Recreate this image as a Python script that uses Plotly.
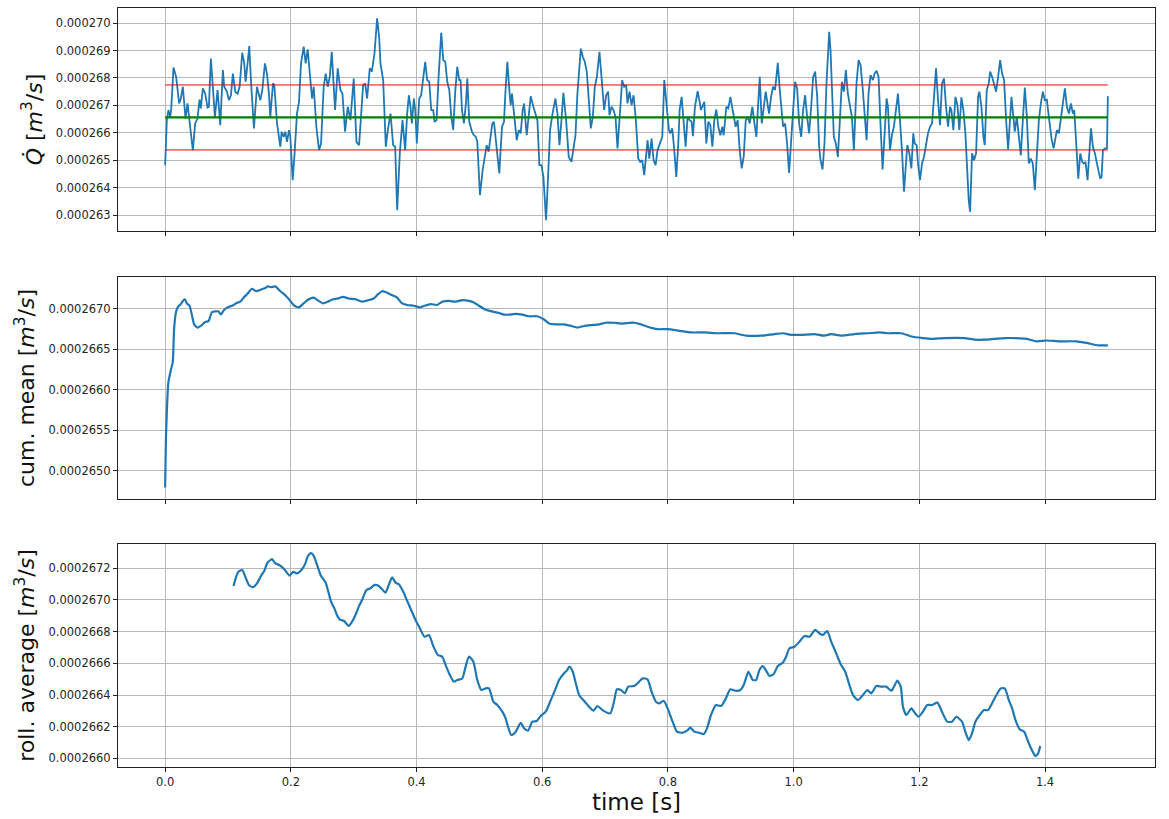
import numpy as np
import plotly.graph_objects as go
from plotly.subplots import make_subplots

# ---------------- data (flow rates in 1e-6 m^3/s, time in s) ----------------
flow_t_a = [0.0000, 0.0027, 0.0053, 0.0080, 0.0096, 0.0133, 0.0175, 0.0197, 0.0223, 0.0250,
            0.0282, 0.0324, 0.0356, 0.0398, 0.0441, 0.0478, 0.0515, 0.0547, 0.0568, 0.0600,
            0.0637, 0.0675, 0.0696, 0.0728, 0.0760, 0.0792, 0.0834, 0.0877, 0.0919, 0.0940,
            0.0983, 0.1015, 0.1047, 0.1078, 0.1116, 0.1153, 0.1185, 0.1227, 0.1259, 0.1280,
            0.1312, 0.1339, 0.1365, 0.1413, 0.1461, 0.1514, 0.1546, 0.1588, 0.1620, 0.1652,
            0.1673, 0.1716, 0.1737, 0.1780, 0.1833, 0.1854, 0.1886, 0.1912, 0.1939, 0.1971,
            0.1992, 0.2029, 0.2056, 0.2098, 0.2130, 0.2162, 0.2205, 0.2236, 0.2268, 0.2300,
            0.2337, 0.2364, 0.2406, 0.2449, 0.2481, 0.2523, 0.2555, 0.2587, 0.2619, 0.2651,
            0.2672, 0.2704, 0.2746, 0.2789, 0.2821, 0.2863, 0.2906, 0.2948, 0.3001, 0.3044,
            0.3086, 0.3118, 0.3150, 0.3182, 0.3214, 0.3256, 0.3288, 0.3331, 0.3373, 0.3405,
            0.3426, 0.3469, 0.3511, 0.3543, 0.3586, 0.3628, 0.3660, 0.3692]
flow_q_a = [264.82, 266.46, 266.83, 266.58, 266.83, 268.38, 268.04, 267.68, 267.07, 267.25,
            267.68, 266.52, 267.07, 266.22, 265.37, 266.34, 266.52, 267.21, 266.89, 267.62,
            267.43, 266.92, 266.95, 268.71, 267.56, 266.58, 267.56, 266.28, 268.29, 267.68,
            267.50, 267.19, 267.37, 268.16, 267.50, 267.43, 267.68, 268.92, 268.53, 267.86,
            268.53, 269.16, 267.92, 266.16, 267.68, 267.19, 267.56, 268.53, 268.16, 267.43,
            266.58, 267.80, 267.74, 266.34, 265.49, 266.04, 265.85, 266.04, 265.67, 266.10,
            265.85, 264.27, 265.12, 266.70, 267.13, 268.53, 269.14, 268.53, 269.04, 268.04,
            267.25, 267.68, 266.22, 265.37, 265.61, 267.68, 268.16, 267.68, 268.04, 268.95,
            268.04, 266.83, 268.35, 267.56, 267.43, 266.04, 266.95, 266.46, 267.98, 265.67,
            265.55, 266.83, 267.74, 267.80, 267.25, 268.35, 268.23, 268.89, 270.17, 269.50,
            268.53, 267.92, 265.49, 266.10, 266.70, 265.55, 265.49, 263.18]

flow_t_b = [0.3734, 0.3777, 0.3819, 0.3851, 0.3878, 0.3904, 0.3926, 0.3958, 0.3979, 0.4005,
            0.4043, 0.4074, 0.4106, 0.4138, 0.4170, 0.4202, 0.4234, 0.4266, 0.4287, 0.4319,
            0.4351, 0.4393, 0.4425, 0.4457, 0.4489, 0.4521, 0.4553, 0.4584, 0.4616, 0.4648,
            0.4680, 0.4701, 0.4723, 0.4754, 0.4786, 0.4808, 0.4839, 0.4882, 0.4914, 0.4946,
            0.4967, 0.5009, 0.5052, 0.5084, 0.5116, 0.5147, 0.5179, 0.5206, 0.5232, 0.5275,
            0.5317, 0.5360, 0.5392, 0.5413, 0.5445, 0.5477, 0.5498, 0.5519, 0.5551, 0.5594,
            0.5626, 0.5657, 0.5689, 0.5711, 0.5753, 0.5785, 0.5817, 0.5859, 0.5891, 0.5923,
            0.5955, 0.5987, 0.6019, 0.6061, 0.6093, 0.6125, 0.6157, 0.6178, 0.6210, 0.6242,
            0.6274, 0.6306, 0.6337, 0.6380, 0.6422, 0.6465, 0.6497, 0.6529, 0.6560, 0.6592,
            0.6614, 0.6645, 0.6677, 0.6709, 0.6741, 0.6773, 0.6805, 0.6837, 0.6869, 0.6911,
            0.6943, 0.6964, 0.6985, 0.7017, 0.7049, 0.7070, 0.7102, 0.7134, 0.7166, 0.7198,
            0.7240, 0.7272, 0.7304, 0.7336, 0.7357, 0.7389, 0.7421]
flow_q_b = [265.25, 266.46, 265.37, 266.70, 267.37, 266.95, 266.34, 267.25, 266.83, 265.61,
            267.25, 267.37, 267.92, 268.59, 267.92, 267.86, 266.83, 266.83, 266.40, 266.46,
            268.04, 269.65, 268.65, 268.59, 267.86, 267.56, 266.58, 266.10, 267.50, 268.41,
            267.92, 267.92, 266.83, 266.34, 267.07, 267.98, 266.40, 266.04, 265.91, 265.85,
            265.67, 263.73, 264.64, 265.12, 265.55, 265.31, 265.98, 266.34, 266.40, 265.49,
            264.52, 266.22, 266.40, 267.43, 268.59, 267.56, 267.01, 267.43, 266.70, 265.73,
            266.10, 265.98, 266.83, 267.07, 265.91, 266.70, 267.33, 266.95, 266.70, 266.46,
            264.82, 264.82, 264.39, 262.81, 264.39, 266.10, 266.61, 266.83, 267.25, 266.70,
            265.55, 266.46, 267.46, 266.46, 265.12, 264.94, 265.43, 265.91, 267.43, 268.65,
            269.07, 268.77, 268.59, 268.23, 267.07, 266.16, 266.58, 267.68, 268.04, 268.95,
            268.04, 267.37, 266.83, 267.37, 267.50, 266.64, 266.95, 266.83, 266.58, 265.43,
            267.01, 267.92, 267.68, 267.74, 267.07, 267.50, 267.01]

flow_t_c = [0.7453, 0.7490, 0.7527, 0.7559, 0.7591, 0.7623, 0.7655, 0.7676, 0.7703, 0.7740,
            0.7772, 0.7804, 0.7835, 0.7878, 0.7910, 0.7942, 0.7984, 0.8016, 0.8037, 0.8069,
            0.8101, 0.8133, 0.8165, 0.8186, 0.8218, 0.8250, 0.8282, 0.8313, 0.8345, 0.8377,
            0.8398, 0.8430, 0.8473, 0.8505, 0.8526, 0.8547, 0.8579, 0.8611, 0.8643, 0.8675,
            0.8707, 0.8738, 0.8770, 0.8802, 0.8834, 0.8866, 0.8887, 0.8930, 0.8962, 0.8993,
            0.9025, 0.9047, 0.9078, 0.9110, 0.9142, 0.9174, 0.9206, 0.9238, 0.9270, 0.9302,
            0.9344, 0.9376, 0.9408, 0.9429, 0.9461, 0.9493, 0.9525, 0.9556, 0.9588, 0.9610,
            0.9641, 0.9673, 0.9705, 0.9748, 0.9780, 0.9811, 0.9833, 0.9865, 0.9896, 0.9928,
            0.9960, 0.9992, 1.0024, 1.0056, 1.0088, 1.0120, 1.0151, 1.0183, 1.0215, 1.0247,
            1.0279, 1.0311, 1.0343, 1.0375, 1.0406, 1.0428, 1.0460, 1.0491, 1.0523, 1.0545,
            1.0566, 1.0587, 1.0619, 1.0640, 1.0672, 1.0704, 1.0736, 1.0768, 1.0800, 1.0831,
            1.0863, 1.0895, 1.0927, 1.0959, 1.1001, 1.1033, 1.1065, 1.1097, 1.1129, 1.1161,
            1.1192, 1.1224]
flow_q_c = [267.37, 266.46, 265.06, 264.94, 265.00, 264.46, 265.37, 265.73, 265.06, 265.79,
            265.00, 264.82, 265.37, 265.61, 265.85, 267.92, 266.95, 266.10, 265.98, 266.16,
            265.37, 264.39, 265.61, 266.83, 267.31, 266.46, 265.49, 266.58, 266.46, 266.40,
            265.88, 266.95, 267.52, 267.13, 266.83, 266.95, 267.13, 265.61, 266.40, 266.28,
            265.49, 266.46, 266.85, 266.22, 265.91, 266.22, 265.91, 266.95, 266.89, 267.31,
            266.89, 266.58, 266.22, 266.46, 265.37, 264.70, 265.12, 266.46, 266.58, 266.34,
            266.95, 266.34, 265.85, 266.77, 268.04, 266.34, 266.95, 267.50, 267.01, 266.70,
            267.31, 267.68, 267.56, 268.55, 267.56, 266.58, 266.22, 266.34, 265.61, 264.54,
            265.85, 266.83, 267.86, 267.62, 266.34, 265.85, 266.83, 267.37, 266.58, 265.98,
            266.95, 268.04, 268.23, 267.31, 265.49, 265.00, 264.66, 265.61, 267.80, 269.01,
            269.68, 269.01, 266.95, 265.85, 265.61, 265.12, 266.46, 267.86, 267.50, 268.29,
            267.43, 266.95, 266.58, 265.37, 267.80, 268.65, 268.47, 267.68, 266.58, 265.73,
            267.43, 268.10]

flow_t_d = [1.1262, 1.1288, 1.1320, 1.1352, 1.1384, 1.1416, 1.1448, 1.1480, 1.1501, 1.1533,
            1.1564, 1.1596, 1.1628, 1.1660, 1.1692, 1.1724, 1.1756, 1.1788, 1.1809, 1.1841,
            1.1873, 1.1904, 1.1926, 1.1958, 1.1979, 1.2011, 1.2043, 1.2074, 1.2106, 1.2138,
            1.2170, 1.2202, 1.2234, 1.2266, 1.2298, 1.2329, 1.2361, 1.2393, 1.2425, 1.2457,
            1.2489, 1.2510, 1.2542, 1.2574, 1.2606, 1.2637, 1.2669, 1.2701, 1.2733, 1.2765,
            1.2786, 1.2808, 1.2839, 1.2871, 1.2903, 1.2935, 1.2956, 1.2988, 1.3020, 1.3041,
            1.3073, 1.3105, 1.3126, 1.3158, 1.3190, 1.3222, 1.3254, 1.3286, 1.3317, 1.3349,
            1.3381, 1.3413, 1.3466, 1.3487, 1.3519, 1.3551, 1.3583, 1.3615, 1.3647, 1.3679,
            1.3711, 1.3742, 1.3774, 1.3806, 1.3838, 1.3870, 1.3902, 1.3934, 1.3966, 1.3997,
            1.4029, 1.4061, 1.4104, 1.4136, 1.4157, 1.4189, 1.4221, 1.4252, 1.4284, 1.4316,
            1.4348, 1.4380, 1.4412, 1.4444, 1.4465, 1.4497, 1.4529, 1.4561, 1.4592, 1.4614,
            1.4645, 1.4677, 1.4709, 1.4731, 1.4762, 1.4794, 1.4837, 1.4879, 1.4900, 1.4922,
            1.4954, 1.4986, 1.5000]
flow_q_d = [267.92, 268.16, 268.26, 268.04, 266.22, 264.66, 265.98, 267.25, 266.95, 265.37,
            265.91, 266.22, 266.83, 267.43, 266.46, 265.37, 263.85, 264.88, 265.55, 265.25,
            264.70, 265.98, 265.61, 265.55, 264.88, 264.27, 264.88, 265.12, 265.61, 265.98,
            266.22, 266.34, 267.31, 268.35, 267.19, 266.28, 267.80, 267.98, 266.95, 266.22,
            266.95, 266.83, 266.10, 267.31, 267.01, 266.10, 267.29, 266.83, 265.98, 264.58,
            263.54, 263.12, 265.25, 265.00, 265.25, 267.31, 267.50, 266.95, 265.85, 265.55,
            267.56, 267.80, 268.23, 268.04, 267.74, 267.50, 268.04, 268.65, 268.16, 267.92,
            266.46, 265.39, 267.31, 266.89, 266.04, 266.58, 265.73, 265.18, 266.46, 267.65,
            266.58, 264.88, 265.06, 264.88, 263.91, 265.25, 266.46, 267.07, 267.50, 267.19,
            267.21, 266.58, 265.79, 265.43, 265.67, 266.10, 265.98, 266.58, 267.07, 267.62,
            266.95, 266.70, 267.07, 266.70, 266.83, 265.73, 264.33, 265.25, 264.94, 264.88,
            264.94, 264.27, 265.61, 266.16, 265.49, 265.25, 264.76, 264.33, 264.39, 265.37,
            265.43, 265.43, 267.33]

flow_mean = 266.56
flow_std = 1.185
t_start, t_end = 0.0, 1.5

cum_t_a = [0.0000, 0.0016, 0.0053, 0.0090, 0.0122, 0.0143, 0.0175, 0.0207, 0.0250, 0.0282,
           0.0313, 0.0345, 0.0388, 0.0425, 0.0462, 0.0515, 0.0568, 0.0637, 0.0691, 0.0744,
           0.0797, 0.0850, 0.0887, 0.0930, 0.0993, 0.1062, 0.1132, 0.1195, 0.1248, 0.1312,
           0.1381, 0.1450, 0.1525, 0.1594, 0.1631, 0.1684, 0.1753, 0.1833, 0.1912, 0.1992,
           0.2056, 0.2125, 0.2204, 0.2284, 0.2364, 0.2444, 0.2513, 0.2587, 0.2672, 0.2746,
           0.2831, 0.2922, 0.3028, 0.3134, 0.3240, 0.3320, 0.3384, 0.3453, 0.3506, 0.3586,
           0.3692, 0.3756, 0.3851, 0.3957, 0.4053, 0.4127, 0.4223, 0.4329, 0.4409, 0.4515,
           0.4621, 0.4728, 0.4834, 0.4914, 0.4993, 0.5100, 0.5206, 0.5312, 0.5392, 0.5472,
           0.5578, 0.5684, 0.5790, 0.5923, 0.6029, 0.6109, 0.6215, 0.6348, 0.6465, 0.6560,
           0.6667, 0.6773, 0.6906, 0.7012, 0.7145, 0.7251]
cum_q_a = [264.79, 265.48, 266.10, 266.24, 266.35, 266.76, 266.97, 267.03, 267.06, 267.10,
           267.12, 267.07, 267.04, 266.93, 266.81, 266.77, 266.79, 266.84, 266.85, 266.96,
           266.97, 266.97, 266.93, 266.98, 267.02, 267.04, 267.07, 267.09, 267.14, 267.19,
           267.25, 267.22, 267.24, 267.26, 267.28, 267.27, 267.28, 267.22, 267.17, 267.10,
           267.04, 267.02, 267.07, 267.12, 267.14, 267.10, 267.07, 267.09, 267.12, 267.13,
           267.15, 267.13, 267.12, 267.09, 267.11, 267.13, 267.18, 267.22, 267.21, 267.18,
           267.14, 267.08, 267.05, 267.04, 267.02, 267.04, 267.06, 267.05, 267.09, 267.10,
           267.09, 267.11, 267.10, 267.08, 267.04, 266.99, 266.97, 266.95, 266.93, 266.93,
           266.94, 266.93, 266.91, 266.91, 266.87, 266.82, 266.81, 266.81, 266.79, 266.77,
           266.79, 266.80, 266.81, 266.83, 266.83, 266.82]
cum_t_b = [0.7463, 0.7570, 0.7676, 0.7835, 0.7995, 0.8181, 0.8367, 0.8579, 0.8792, 0.9057,
           0.9243, 0.9482, 0.9697, 0.9829, 0.9962, 1.0120, 1.0332, 1.0491, 1.0598, 1.0757,
           1.0970, 1.1182, 1.1368, 1.1501, 1.1716, 1.1873, 1.2059, 1.2191, 1.2403, 1.2722,
           1.2882, 1.3041, 1.3200, 1.3360, 1.3519, 1.3705, 1.3865, 1.4024, 1.4210, 1.4502,
           1.4661, 1.4847, 1.5000]
cum_q_b = [266.83, 266.81, 266.78, 266.75, 266.75, 266.73, 266.71, 266.71, 266.70, 266.70,
           266.67, 266.67, 266.69, 266.70, 266.68, 266.68, 266.69, 266.67, 266.69, 266.67,
           266.69, 266.70, 266.71, 266.70, 266.70, 266.66, 266.64, 266.63, 266.64, 266.64,
           266.62, 266.62, 266.63, 266.64, 266.64, 266.63, 266.60, 266.61, 266.60, 266.60,
           266.58, 266.55, 266.55]

roll_t_a = [0.1089, 0.1131, 0.1169, 0.1227, 0.1275, 0.1333, 0.1397, 0.1461, 0.1525, 0.1578,
            0.1631, 0.1700, 0.1753, 0.1822, 0.1896, 0.1981, 0.2035, 0.2098, 0.2178, 0.2231,
            0.2268, 0.2321, 0.2364, 0.2417, 0.2481, 0.2555, 0.2603, 0.2640, 0.2693, 0.2746,
            0.2789, 0.2842, 0.2922, 0.2975, 0.3028, 0.3081, 0.3134, 0.3203, 0.3267, 0.3331,
            0.3394, 0.3453, 0.3506, 0.3559, 0.3612, 0.3665, 0.3719, 0.3787, 0.3851, 0.3915,
            0.3984, 0.4053, 0.4127, 0.4197, 0.4266, 0.4340, 0.4409, 0.4462, 0.4531, 0.4595,
            0.4648, 0.4728, 0.4781, 0.4834, 0.4903, 0.4967, 0.5031, 0.5100, 0.5153, 0.5222,
            0.5285, 0.5365, 0.5418, 0.5456, 0.5509, 0.5578, 0.5658, 0.5711, 0.5774, 0.5843,
            0.5912, 0.5976, 0.6056, 0.6136, 0.6215, 0.6268, 0.6348, 0.6390, 0.6433, 0.6486,
            0.6534, 0.6587, 0.6667, 0.6746, 0.6815, 0.6879, 0.6959, 0.7081, 0.7145, 0.7187,
            0.7251, 0.7315, 0.7368]
roll_q_a = [267.088, 267.147, 267.179, 267.189, 267.147, 267.095, 267.080, 267.105, 267.151, 267.185,
            267.236, 267.257, 267.231, 267.219, 267.194, 267.154, 267.177, 267.168, 267.194, 267.231,
            267.274, 267.295, 267.278, 267.221, 267.151, 267.109, 267.042, 266.989, 266.947, 266.895,
            266.874, 266.869, 266.836, 266.863, 266.905, 266.958, 267.000, 267.063, 267.074, 267.095,
            267.090, 267.067, 267.046, 267.095, 267.143, 267.109, 267.099, 267.053, 266.994, 266.937,
            266.874, 266.821, 266.768, 266.779, 266.709, 266.653, 266.642, 266.590, 266.526, 266.484,
            266.495, 266.505, 266.579, 266.642, 266.611, 266.495, 266.432, 266.442, 266.442, 266.358,
            266.337, 266.295, 266.253, 266.200, 266.148, 266.169, 266.225, 266.190, 266.175, 266.232,
            266.236, 266.268, 266.295, 266.368, 266.442, 266.495, 266.537, 266.554, 266.579, 266.547,
            266.474, 266.400, 266.362, 266.326, 266.301, 266.331, 266.305, 266.284, 266.364, 266.436,
            266.432, 266.411, 266.453]
roll_t_b = [0.7464, 0.7527, 0.7596, 0.7676, 0.7740, 0.7809, 0.7862, 0.7931, 0.7995, 0.8075,
            0.8144, 0.8234, 0.8304, 0.8356, 0.8420, 0.8500, 0.8569, 0.8622, 0.8685, 0.8765,
            0.8845, 0.8909, 0.8994, 0.9068, 0.9153, 0.9206, 0.9281, 0.9350, 0.9403, 0.9456,
            0.9509, 0.9562, 0.9615, 0.9684, 0.9748, 0.9827, 0.9880, 0.9934, 1.0013, 1.0093,
            1.0173, 1.0252, 1.0343, 1.0412, 1.0465, 1.0534, 1.0598, 1.0678, 1.0747, 1.0821,
            1.0880, 1.0944, 1.1023, 1.1103, 1.1172, 1.1236, 1.1316, 1.1395, 1.1475, 1.1555,
            1.1597, 1.1650, 1.1704, 1.1740, 1.1793, 1.1873, 1.1926, 1.1989, 1.2058, 1.2126,
            1.2202, 1.2287, 1.2360, 1.2444, 1.2520, 1.2589, 1.2679, 1.2732, 1.2786, 1.2839,
            1.2892, 1.2962, 1.3030, 1.3094, 1.3157, 1.3227, 1.3296, 1.3360, 1.3424, 1.3477,
            1.3530, 1.3599, 1.3668, 1.3732, 1.3796, 1.3849, 1.3891, 1.3923]
roll_q_b = [266.457, 266.478, 266.505, 266.499, 266.421, 266.358, 266.347, 266.364, 266.316, 266.232,
            266.169, 266.162, 266.175, 266.194, 266.169, 266.162, 266.154, 266.190, 266.274, 266.337,
            266.331, 266.368, 266.436, 266.427, 266.432, 266.463, 266.547, 266.495, 266.495, 266.558,
            266.583, 266.554, 266.520, 266.533, 266.583, 266.604, 266.642, 266.695, 266.705, 266.737,
            266.773, 266.768, 266.811, 266.789, 266.779, 266.804, 266.737, 266.663, 266.596, 266.547,
            266.474, 266.400, 266.368, 266.400, 266.432, 266.411, 266.457, 266.453, 266.453, 266.427,
            266.453, 266.491, 266.453, 266.326, 266.274, 266.316, 266.288, 266.263, 266.295, 266.337,
            266.337, 266.352, 266.295, 266.232, 266.232, 266.263, 266.232, 266.169, 266.116, 266.158,
            266.232, 266.274, 266.305, 266.305, 266.347, 266.400, 266.442, 266.442, 266.368, 266.316,
            266.242, 266.183, 266.169, 266.105, 266.049, 266.015, 266.032, 266.078]

x_ticks = [0.0, 0.2, 0.4, 0.6, 0.8, 1.0, 1.2, 1.4]
flow_ticks = [263, 264, 265, 266, 267, 268, 269, 270]
cum_ticks = [265.0, 265.5, 266.0, 266.5, 267.0]
roll_ticks = [266.0, 266.2, 266.4, 266.6, 266.8, 267.0, 267.2]

# ---------------- build ----------------
U = 1e-6
flow_t = flow_t_a + flow_t_b + flow_t_c + flow_t_d
flow_q = np.array(flow_q_a + flow_q_b + flow_q_c + flow_q_d) * U
cum_t = cum_t_a + cum_t_b
cum_q = np.array(cum_q_a + cum_q_b) * U
roll_t = roll_t_a + roll_t_b
roll_q = np.array(roll_q_a + roll_q_b) * U

BLUE = "#1f77b4"
FONT = "DejaVu Sans"

fig = make_subplots(rows=3, cols=1, shared_xaxes=True)
fig.add_trace(go.Scatter(x=flow_t, y=flow_q, mode="lines",
                         line=dict(color=BLUE, width=1.8)), row=1, col=1)
for lvl in (flow_mean + flow_std, flow_mean - flow_std):
    fig.add_trace(go.Scatter(x=[t_start, t_end], y=[lvl * U, lvl * U], mode="lines",
                             line=dict(color="#ff0000", width=1)), row=1, col=1)
fig.add_trace(go.Scatter(x=[t_start, t_end], y=[flow_mean * U, flow_mean * U], mode="lines",
                         line=dict(color="#008000", width=2.2)), row=1, col=1)
fig.add_trace(go.Scatter(x=cum_t, y=cum_q, mode="lines",
                         line=dict(color=BLUE, width=2.2, shape="spline", smoothing=0.5)),
              row=2, col=1)
fig.add_trace(go.Scatter(x=roll_t, y=roll_q, mode="lines",
                         line=dict(color=BLUE, width=2.2, shape="spline", smoothing=0.6)),
              row=3, col=1)

axis_style = dict(showgrid=True, gridcolor="#b8b8b8", gridwidth=1, showline=True, mirror=True,
                  linecolor="#222222", linewidth=1, ticks="outside", ticklen=4,
                  tickcolor="#222222", zeroline=False,
                  tickfont=dict(family=FONT, size=11.5, color="#262626"))
title_font = dict(family=FONT, size=22, color="#111111")

for i in (1, 2, 3):
    fig.update_xaxes(axis_style, row=i, col=1)
    fig.update_xaxes(range=[-0.075, 1.575], tickvals=x_ticks, tickformat=".1f",
                     showticklabels=(i == 3), row=i, col=1)
    fig.update_yaxes(axis_style, row=i, col=1)

fig.update_xaxes(title=dict(text="time [s]", font=dict(family=FONT, size=23, color="#111111"),
                            standoff=4), row=3, col=1)

fig.update_yaxes(range=[262.42 * U, 270.55 * U], tickvals=[v * U for v in flow_ticks],
                 tickformat=".6f", domain=[0.7062, 1.0], automargin=False,
                 title=dict(text="<i>Q̇</i> [<i>m</i><sup>3</sup>/<i>s</i>]", font=title_font, standoff=7),
                 row=1, col=1)
fig.update_yaxes(range=[264.649 * U, 267.396 * U], tickvals=[v * U for v in cum_ticks],
                 tickformat=".7f", domain=[0.3531, 0.6456], automargin=False,
                 title=dict(text="cum. mean [<i>m</i><sup>3</sup>/<i>s</i>]", font=title_font, standoff=7),
                 row=2, col=1)
fig.update_yaxes(range=[265.946 * U, 267.353 * U], tickvals=[v * U for v in roll_ticks],
                 tickformat=".7f", domain=[0.0, 0.2938], automargin=False,
                 title=dict(text="roll. average [<i>m</i><sup>3</sup>/<i>s</i>]", font=title_font, standoff=7),
                 row=3, col=1)

fig.update_layout(width=1169, height=819, showlegend=False,
                  margin=dict(l=118, r=14, t=8, b=52, autoexpand=False),
                  paper_bgcolor="white", plot_bgcolor="white",
                  font=dict(family=FONT))

fig.write_html("out.html", config={"displayModeBar": False},
               post_script="document.body.style.margin='0';document.body.style.padding='0';")
